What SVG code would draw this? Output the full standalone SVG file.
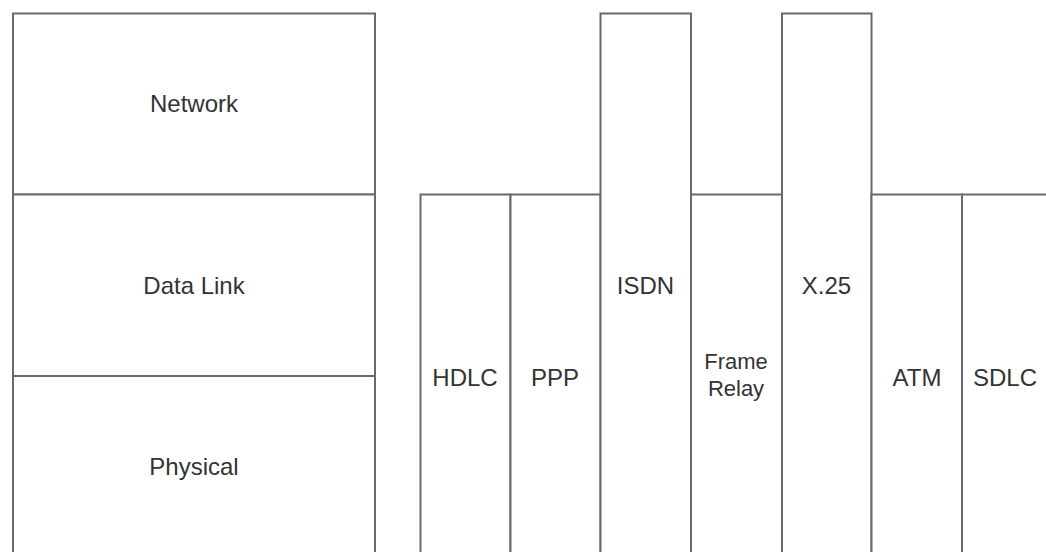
<svg xmlns="http://www.w3.org/2000/svg" width="1046" height="552" viewBox="0 0 1046 552">
<style>
.b{fill:#fff;stroke:#6a6a6a;stroke-width:2}
.t{font-family:"Liberation Sans",Arial,sans-serif;font-size:24px;fill:#333;text-anchor:middle;dominant-baseline:central}
.s{font-size:22px}
</style>
<rect width="1046" height="552" fill="#fff"/>
<g id="network"><rect class="b" x="13" y="13.5" width="362" height="181"/><text class="t" x="194" y="103">Network</text></g>
<g id="datalink"><rect class="b" x="13" y="194.5" width="362" height="181.5"/><text class="t" x="194" y="285">Data Link</text></g>
<g id="physical"><rect class="b" x="13" y="376" width="362" height="190"/><text class="t" x="194" y="466">Physical</text></g>
<g id="hdlc"><rect class="b" x="420.5" y="194.5" width="90" height="370"/><text class="t" x="465" y="377">HDLC</text></g>
<g id="ppp"><rect class="b" x="510.5" y="194.5" width="90" height="370"/><text class="t" x="555" y="377">PPP</text></g>
<g id="isdn"><rect class="b" x="600.5" y="13.5" width="90.5" height="560"/><text class="t" x="645.5" y="285">ISDN</text></g>
<g id="framerelay"><rect class="b" x="691" y="194.5" width="91" height="370"/><text class="t s" x="736" y="361">Frame</text><text class="t s" x="736" y="388">Relay</text></g>
<g id="x25"><rect class="b" x="782" y="13.5" width="89.5" height="560"/><text class="t" x="826.5" y="285">X.25</text></g>
<g id="atm"><rect class="b" x="871.5" y="194.5" width="90.5" height="370"/><text class="t" x="917" y="377">ATM</text></g>
<g id="sdlc"><rect class="b" x="962" y="194.5" width="100" height="370"/><text class="t" x="1005" y="377">SDLC</text></g>
<g id="connectors"></g>
</svg>
